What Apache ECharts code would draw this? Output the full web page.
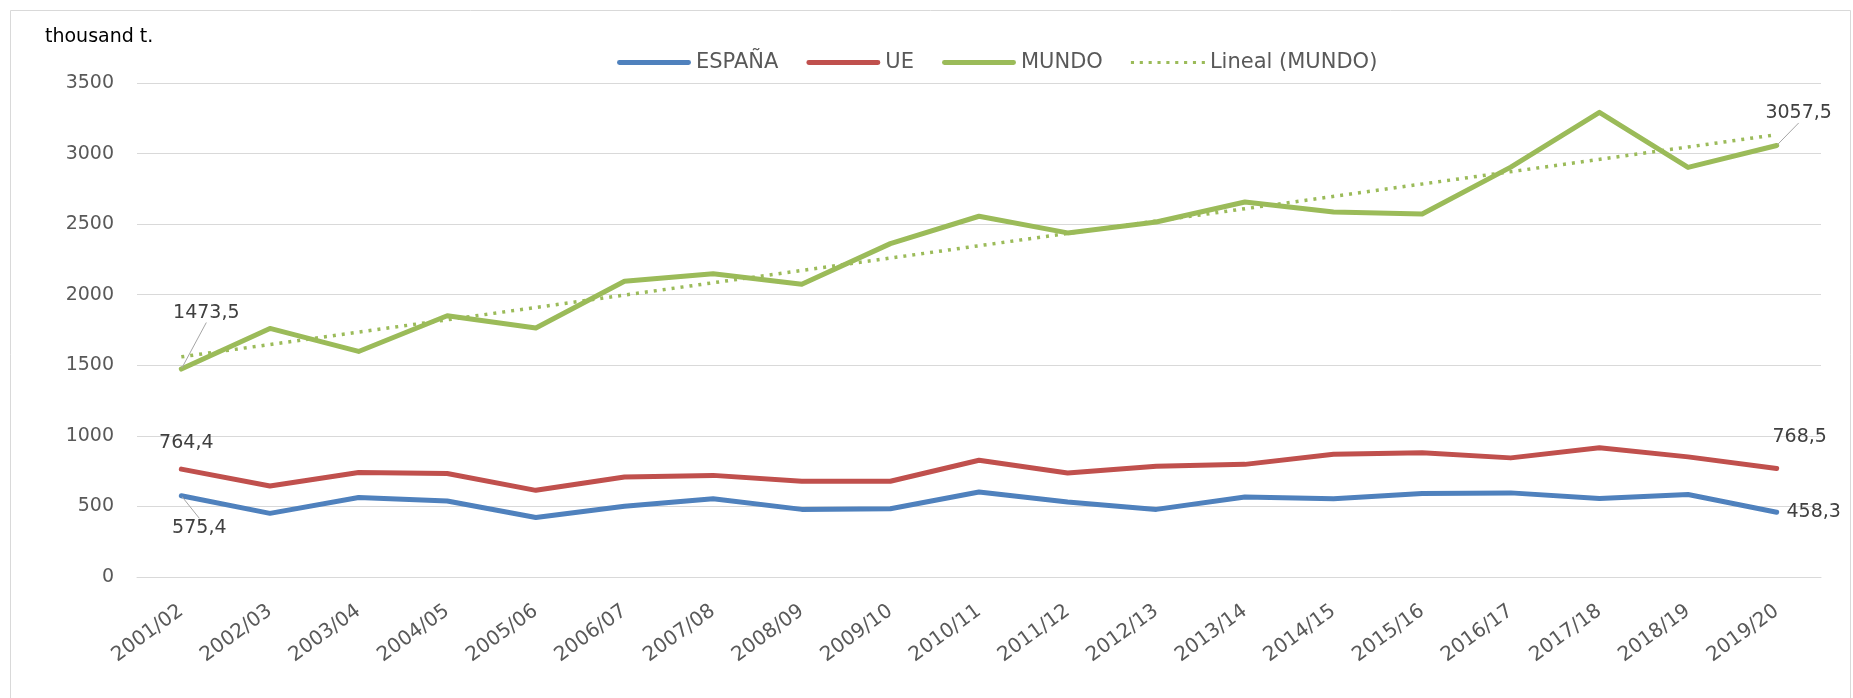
<!DOCTYPE html>
<html>
<head>
<meta charset="utf-8">
<title>ESPAÑA / UE / MUNDO</title>
<script src="https://cdn.jsdelivr.net/npm/echarts@6/dist/echarts.min.js"></script>
<style>
html, body {
  margin: 0;
  padding: 0;
  background: #fff;
}

#myChart {
  width: 1853px;
  height: 698px;
}
</style>
</head>
<body>
<div id="myChart"></div>
<script>
// campañas
var campaigns = ['2001/02', '2002/03', '2003/04', '2004/05', '2005/06', '2006/07', '2007/08', '2008/09', '2009/10', '2010/11',
  '2011/12', '2012/13', '2013/14', '2014/15', '2015/16', '2016/17', '2017/18', '2018/19', '2019/20'];

// thousand t.
var espana = [575.4, 451, 563, 539, 421, 501, 555, 479, 484, 602, 531, 479, 567, 555, 591, 596, 556, 584, 458.3];
var ue = [764.4, 645, 740, 733, 614, 709, 720, 678, 678, 827, 737, 784, 798, 869, 880, 844, 915, 851, 768.5];
var mundo = [1473.5, 1761, 1598, 1851, 1764, 2095, 2149, 2074, 2362, 2556, 2438, 2515, 2657, 2586, 2572, 2904, 3292, 2902, 3057.5];

// tendencia lineal (MUNDO), extremos
var trendEnds = [1560, 3134];

var yTicks = [0, 500, 1000, 1500, 2000, 2500, 3000, 3500];

var last = campaigns.length - 1;
var trend = campaigns.map(function (c, i) {
  if (i === 0) return trendEnds[0];
  if (i === last) return trendEnds[1];
  return null;
});

var font = 'DejaVu Sans';

// desplazamiento de las etiquetas (centro de etiqueta - punto)
var labelOffsets = {
  0: { 0: [18, 32], 18: [37, 0] },
  1: { 0: [5, -26], 18: [23, -31] },
  2: { 0: [25, -56], 18: [22, -32] }
};
var leaders = {
  0: { 0: true },
  2: { 0: true, 18: true }
};

// iconos de leyenda: barra solida y linea de puntos
var barIcon = 'path://M2,0h70a2,2 0 0 1 0,5h-70a2,2 0 0 1 0,-5z';
var dotIcon = 'path://';
for (var d = 0; d < 9; d++) {
  dotIcon += 'M' + (d * 8.5) + ',0h3v3h-3z';
}

function withLabels(values, seriesIndex) {
  return values.map(function (v, i) {
    if (i !== 0 && i !== last) return v;
    return {
      value: v,
      label: { show: true },
      labelLine: { show: !!(leaders[seriesIndex] && leaders[seriesIndex][i]) }
    };
  });
}

function lineSeries(name, values, color, idx) {
  return {
    name: name,
    type: 'line',
    data: withLabels(values, idx),
    symbol: 'circle',
    symbolSize: 2,
    showSymbol: true,
    itemStyle: { color: color },
    lineStyle: { color: color, width: 5, cap: 'round', join: 'round' },
    label: {
      show: false,
      position: 'inside',
      fontFamily: font,
      fontSize: 19,
      color: '#404040',
      formatter: function (p) {
        return String(p.value).replace('.', ',');
      }
    },
    labelLine: {
      show: false,
      lineStyle: { color: '#A6A6A6', width: 1 }
    },
    labelLayout: function (params) {
      var o = labelOffsets[idx] && labelOffsets[idx][params.dataIndex];
      if (!o) return {};
      return { dx: o[0], dy: o[1] };
    },
    emphasis: { disabled: true },
    animation: false,
    z: 2 + idx
  };
}

var myChart = echarts.init(document.getElementById('myChart'));

myChart.setOption({
  backgroundColor: '#fff',
  animation: false,
  title: {
    text: 'thousand t.',
    left: 40,
    top: 23,
    textStyle: {
      fontFamily: font,
      fontSize: 19,
      fontWeight: 'normal',
      color: '#000'
    }
  },
  graphic: [
    {
      type: 'rect',
      left: 8,
      top: 8,
      silent: true,
      shape: { width: 1840, height: 720 },
      style: { fill: 'none', stroke: '#D9D9D9', lineWidth: 1 }
    }
  ],
  legend: {
    left: 612,
    top: 47,
    itemWidth: 74,
    itemHeight: 6,
    itemGap: 28,
    textStyle: {
      fontFamily: font,
      fontSize: 21,
      color: '#595959'
    },
    data: [
      { name: 'ESPAÑA', icon: barIcon },
      { name: 'UE', icon: barIcon },
      { name: 'MUNDO', icon: barIcon },
      { name: 'Lineal (MUNDO)', icon: dotIcon }
    ]
  },
  grid: {
    left: 137,
    right: 32,
    top: 83,
    bottom: 121,
    containLabel: false
  },
  xAxis: {
    type: 'category',
    data: campaigns,
    boundaryGap: true,
    axisLine: { lineStyle: { color: '#D9D9D9', width: 1 } },
    axisTick: { show: false },
    axisLabel: {
      rotate: 36,
      margin: 32,
      interval: 0,
      fontFamily: font,
      fontSize: 20,
      color: '#595959'
    }
  },
  yAxis: {
    type: 'value',
    min: yTicks[0],
    max: yTicks[yTicks.length - 1],
    interval: yTicks[1] - yTicks[0],
    axisLine: { show: false },
    axisTick: { show: false },
    splitLine: { lineStyle: { color: '#D9D9D9', width: 1 } },
    axisLabel: {
      margin: 23,
      fontFamily: font,
      fontSize: 19,
      color: '#595959',
      formatter: function (v) {
        return String(v);
      }
    }
  },
  series: [
    lineSeries('ESPAÑA', espana, '#4F81BD', 0),
    lineSeries('UE', ue, '#C0504D', 1),
    lineSeries('MUNDO', mundo, '#9BBB59', 2),
    {
      name: 'Lineal (MUNDO)',
      type: 'line',
      data: trend,
      connectNulls: true,
      symbol: 'none',
      itemStyle: { color: '#9BBB59' },
      lineStyle: { color: '#9BBB59', width: 3.5, type: [3, 6] },
      emphasis: { disabled: true },
      animation: false,
      z: 6
    }
  ]
});
</script>
</body>
</html>
